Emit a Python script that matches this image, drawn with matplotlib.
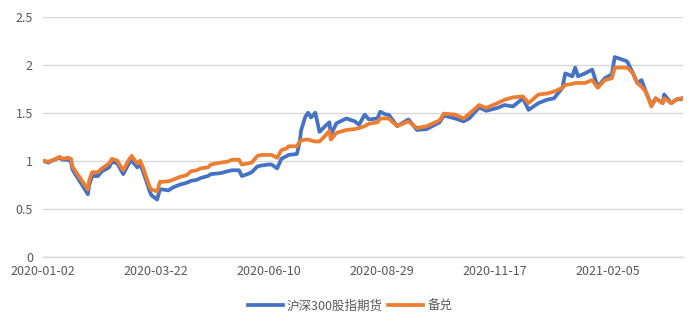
import pandas as pd
import matplotlib
matplotlib.use('Agg')
import matplotlib.pyplot as plt
import matplotlib.dates as mdates

plt.rcParams['font.family'] = ['Noto Sans CJK SC', 'DejaVu Sans']

# data
dates = ['2020-01-02', '2020-01-06', '2020-01-10', '2020-01-14', '2020-01-16', '2020-01-20', '2020-01-22', '2020-01-23',
         '2020-02-03', '2020-02-04', '2020-02-06', '2020-02-10', '2020-02-13', '2020-02-18', '2020-02-20', '2020-02-24', '2020-02-25', '2020-02-28',
         '2020-03-03', '2020-03-05', '2020-03-09', '2020-03-11', '2020-03-13', '2020-03-16', '2020-03-18', '2020-03-19', '2020-03-23', '2020-03-25', '2020-03-27', '2020-03-31',
         '2020-04-03', '2020-04-08', '2020-04-13', '2020-04-16', '2020-04-20', '2020-04-23', '2020-04-28', '2020-04-30',
         '2020-05-07', '2020-05-12', '2020-05-15', '2020-05-20', '2020-05-22', '2020-05-26', '2020-05-29',
         '2020-06-02', '2020-06-05', '2020-06-10', '2020-06-12', '2020-06-16', '2020-06-19', '2020-06-23', '2020-06-24', '2020-06-30',
         '2020-07-02', '2020-07-03', '2020-07-06', '2020-07-08', '2020-07-10', '2020-07-13', '2020-07-16', '2020-07-20', '2020-07-23', '2020-07-24', '2020-07-28',
         '2020-08-04', '2020-08-10', '2020-08-13', '2020-08-17', '2020-08-20', '2020-08-26', '2020-08-28',
         '2020-09-01', '2020-09-03', '2020-09-09', '2020-09-17', '2020-09-23', '2020-09-30',
         '2020-10-09', '2020-10-12', '2020-10-20', '2020-10-26', '2020-10-30',
         '2020-11-06', '2020-11-11', '2020-11-19', '2020-11-24', '2020-11-30',
         '2020-12-07', '2020-12-11', '2020-12-18', '2020-12-24', '2020-12-29',
         '2021-01-04', '2021-01-06', '2021-01-11', '2021-01-13', '2021-01-15', '2021-01-20', '2021-01-25', '2021-01-29',
         '2021-02-03', '2021-02-08', '2021-02-10', '2021-02-18', '2021-02-19', '2021-02-23', '2021-02-26',
         '2021-03-01', '2021-03-04', '2021-03-08', '2021-03-11', '2021-03-16', '2021-03-17', '2021-03-22', '2021-03-26', '2021-03-29', '2021-03-30']

hs300 = [1.00, 0.98, 1.01, 1.03, 1.01, 1.01, 0.99, 0.91,
         0.65, 0.75, 0.84, 0.84, 0.89, 0.93, 0.99, 0.97, 0.94, 0.86,
         0.97, 1.00, 0.93, 0.96, 0.89, 0.76, 0.67, 0.64, 0.595, 0.70, 0.70, 0.69,
         0.72, 0.75, 0.77, 0.79, 0.80, 0.82, 0.84, 0.86,
         0.87, 0.89, 0.90, 0.90, 0.84, 0.86, 0.88,
         0.94, 0.95, 0.96, 0.96, 0.92, 1.02, 1.05, 1.06, 1.07,
         1.20, 1.32, 1.46, 1.50, 1.45, 1.50, 1.30, 1.36, 1.40, 1.27, 1.39,
         1.44, 1.41, 1.375, 1.48, 1.43, 1.44, 1.51,
         1.48, 1.48, 1.36, 1.43, 1.32, 1.33,
         1.40, 1.47, 1.44, 1.41, 1.44,
         1.555, 1.52, 1.55, 1.58, 1.565,
         1.65, 1.53, 1.60, 1.635, 1.65,
         1.76, 1.91, 1.88, 1.97, 1.88, 1.91, 1.95, 1.77,
         1.86, 1.90, 2.08, 2.04, 2.03, 1.91, 1.81,
         1.84, 1.72, 1.58, 1.65, 1.60, 1.69, 1.60, 1.64, 1.64, 1.65]

beidui = [1.00, 0.99, 1.01, 1.04, 1.02, 1.03, 1.02, 0.94,
          0.70, 0.80, 0.88, 0.88, 0.92, 0.97, 1.02, 1.00, 0.97, 0.90,
          1.01, 1.05, 0.97, 1.00, 0.93, 0.80, 0.72, 0.70, 0.68, 0.78, 0.78, 0.785,
          0.80, 0.83, 0.85, 0.89, 0.90, 0.92, 0.93, 0.96,
          0.98, 0.99, 1.01, 1.01, 0.96, 0.97, 0.98,
          1.05, 1.06, 1.06, 1.06, 1.03, 1.11, 1.13, 1.15, 1.15,
          1.20, 1.21, 1.22, 1.22, 1.21, 1.20, 1.20, 1.26, 1.31, 1.22, 1.29,
          1.32, 1.33, 1.34, 1.36, 1.385, 1.40, 1.44,
          1.44, 1.44, 1.36, 1.41, 1.34, 1.36,
          1.42, 1.49, 1.48, 1.44, 1.49,
          1.58, 1.55, 1.60, 1.635, 1.66,
          1.67, 1.60, 1.69, 1.70, 1.72,
          1.76, 1.79, 1.80, 1.81, 1.81, 1.81, 1.84, 1.76,
          1.84, 1.86, 1.97, 1.97, 1.97, 1.91, 1.81,
          1.77, 1.72, 1.565, 1.65, 1.60, 1.65, 1.60, 1.64, 1.65, 1.65]

series_names = ['沪深300股指期货', '备兑']
yticks = [0, 0.5, 1, 1.5, 2, 2.5]
ytick_labels = ['0', '0.5', '1', '1.5', '2', '2.5']

x = pd.to_datetime(dates)

fig = plt.figure(figsize=(7, 3.29), dpi=100)
ax = fig.add_axes([0.061, 0.22, 0.914, 0.729])

ax.plot(x, hs300, color='#4472C4', linewidth=2.7, label=series_names[0], solid_joinstyle='round')
ax.plot(x, beidui, color='#ED7D31', linewidth=2.7, label=series_names[1], solid_joinstyle='round')

ax.set_ylim(0, 2.5)
ax.set_yticks(yticks)
ax.set_yticklabels(ytick_labels)
ax.set_xlim(x[0], x[-1])
xt = pd.date_range(x[0], x[-1], freq='80D')
ax.set_xticks(xt)
ax.xaxis.set_major_formatter(mdates.DateFormatter('%Y-%m-%d'))

ax.grid(axis='y', color='#D9D9D9', linewidth=1)
ax.set_axisbelow(True)
for s in ['top', 'right', 'left']:
    ax.spines[s].set_visible(False)
ax.spines['bottom'].set_color('#D9D9D9')
ax.spines['bottom'].set_linewidth(1)
ax.tick_params(length=0, labelsize=9, labelcolor='#595959')
ax.tick_params(axis='y', pad=7)
ax.tick_params(axis='x', pad=6)

fig.legend(loc='center', bbox_to_anchor=(0.5, 0.07), ncol=2, frameon=False,
           fontsize=9, handlelength=2.8, handletextpad=0.35, columnspacing=0.4,
           labelcolor='#595959')

fig.savefig('out.png', dpi=100)
